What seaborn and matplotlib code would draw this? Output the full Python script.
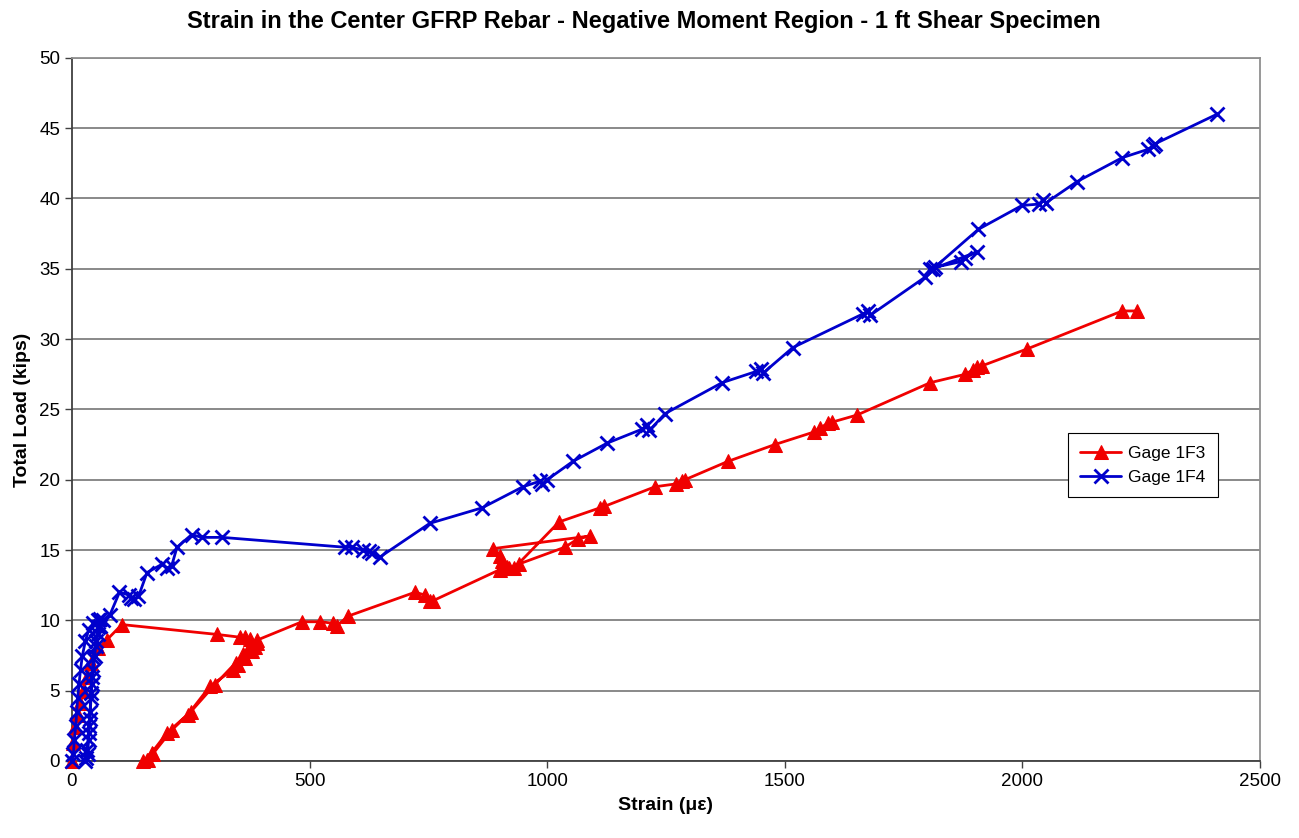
import matplotlib
matplotlib.use("Agg")
import matplotlib.pyplot as plt
import seaborn as sns
import pandas as pd

# Gage 1F3 (center GFRP bar, negative moment region)
strain_1f3 = [0, 2, 6, 12, 17, 24, 31, 40, 55, 73, 105,
              305, 354, 364, 374, 389,
              385, 378, 365, 350, 339, 290, 244, 210, 170, 158, 150,
              160, 168, 200, 250, 300, 345, 360, 375, 390,
              484, 522, 549, 557, 581,
              722, 743, 753, 760,
              900, 920, 940, 1037, 1065, 1090,
              886, 900, 905, 915, 930,
              1025, 1111, 1120, 1227, 1270, 1284, 1290,
              1380, 1479, 1562, 1575, 1590, 1600, 1652,
              1806, 1880, 1895, 1905, 1915, 2010, 2210, 2241]
load_1f3 = [0, 1.3, 2.4, 3.3, 4.1, 5.0, 6.0, 7.0, 8.0, 8.6, 9.7,
            9.0, 8.8, 8.8, 8.7, 8.4,
            8.1, 7.8, 7.3, 6.8, 6.5, 5.3, 3.3, 2.2, 0.5, 0.1, 0,
            0.1, 0.6, 2.0, 3.5, 5.4, 7.0, 7.6, 8.2, 8.6,
            9.9, 9.9, 9.8, 9.6, 10.3,
            12.0, 11.8, 11.4, 11.4,
            13.6, 13.7, 14.0, 15.2, 15.8, 16.0,
            15.1, 14.6, 14.2, 13.8, 13.7,
            17.0, 18.0, 18.1, 19.5, 19.7, 19.9, 20.0,
            21.3, 22.5, 23.4, 23.7, 24.0, 24.1, 24.6,
            26.9, 27.5, 27.8, 28.0, 28.1, 29.3, 32.0, 32.0]

# Gage 1F4
strain_1f4 = [0, 3, 5, 8, 10, 12, 15, 18, 22, 28, 35, 45, 55, 60,
              55, 50, 45, 42, 40, 38, 36, 35, 33, 30, 28,
              32, 35, 38, 40, 42, 45, 48, 50, 55, 60, 65,
              80, 100, 120, 125, 130, 140, 158, 190, 200, 210,
              221, 252, 273, 316,
              574, 589, 612, 625, 631, 648,
              753, 863, 949, 985, 990, 1000, 1054, 1126,
              1200, 1210, 1215, 1248, 1368, 1440, 1450, 1455,
              1517, 1665, 1675, 1680, 1795, 1806, 1815,
              1870, 1880, 1904, 1812,
              1907, 1999, 2035, 2043, 2050, 2115, 2210,
              2265, 2275, 2280, 2410]
load_1f4 = [0, 0.5, 1.5, 2.5, 3.5, 4.5, 5.5, 6.5, 7.5, 8.5, 9.3, 9.8, 10.0, 10.1,
            9.5, 8.5, 7.3, 6.0, 4.8, 3.5, 2.5, 1.5, 0.5, 0.2, 0,
            0.8, 2.0, 3.0, 4.5, 5.5, 6.5, 7.5, 8.2, 9.0, 9.6, 10.0,
            10.4, 12.0, 11.8, 11.6, 11.5, 11.7, 13.4, 14.0, 13.7, 13.9,
            15.2, 16.1, 15.9, 15.9,
            15.2, 15.2, 15.0, 14.9, 14.8, 14.5,
            16.9, 18.0, 19.5, 19.9, 19.7, 20.0, 21.3, 22.6,
            23.6, 23.9, 23.5, 24.7, 26.9, 27.7, 27.9, 27.6,
            29.4, 31.8, 32.0, 31.7, 34.4, 35.0, 35.1,
            35.5, 35.8, 36.2, 35.0,
            37.8, 39.5, 39.6, 39.9, 39.7, 41.2, 42.9,
            43.5, 43.7, 43.9, 46.0]

x_ticks = [0, 500, 1000, 1500, 2000, 2500]
y_ticks = [0, 5, 10, 15, 20, 25, 30, 35, 40, 45, 50]

df_1f3 = pd.DataFrame({"strain": strain_1f3, "load": load_1f3})
df_1f4 = pd.DataFrame({"strain": strain_1f4, "load": load_1f4})

sns.set_theme(style="white")
plt.rcParams["font.family"] = ["Liberation Sans", "DejaVu Sans"]
plt.rcParams["text.color"] = "black"
plt.rcParams["axes.labelcolor"] = "black"

fig = plt.figure(figsize=(12.99, 8.38), dpi=100)
ax = fig.add_axes([0.0554, 0.0919, 0.9146, 0.8391])

red = "#F00000"
blue = "#0000CC"

sns.lineplot(data=df_1f3, x="strain", y="load", sort=False, estimator=None,
             color=red, linewidth=2, marker="^", markersize=10.5,
             markeredgecolor=red, markerfacecolor=red, label="Gage 1F3",
             ax=ax, clip_on=False, zorder=3)
sns.lineplot(data=df_1f4, x="strain", y="load", sort=False, estimator=None,
             color=blue, linewidth=2, marker="x", markersize=10.5,
             markeredgewidth=2, markeredgecolor=blue, label="Gage 1F4",
             ax=ax, clip_on=False, zorder=4)

ax.set_xlim(0, 2500)
ax.set_ylim(0, 50)
ax.set_xticks(x_ticks)
ax.set_yticks(y_ticks)
ax.tick_params(axis="both", labelsize=13.5, labelcolor="black", length=5,
               width=1, direction="out", bottom=True, left=True, color="#404040")
ax.yaxis.grid(True, color="#808080", linewidth=1.3)
ax.xaxis.grid(False)
ax.set_axisbelow(True)

for side in ["top", "right"]:
    ax.spines[side].set_color("#909090")
    ax.spines[side].set_linewidth(1.3)
for side in ["left", "bottom"]:
    ax.spines[side].set_color("#404040")
    ax.spines[side].set_linewidth(1.3)

ax.set_xlabel("Strain (\u03bc\u03b5)", fontsize=14, fontweight="bold", labelpad=5)
ax.set_ylabel("Total Load (kips)", fontsize=14, fontweight="bold", labelpad=6)
fig.suptitle("Strain in the Center GFRP Rebar - Negative Moment Region - 1 ft Shear Specimen",
             fontsize=17, fontweight="bold", color="black", x=0.496, y=0.988,
             va="top")

leg = ax.legend(loc="upper left", bbox_to_anchor=(0.838, 0.466), fontsize=12.5,
                frameon=True, fancybox=False, framealpha=1, edgecolor="black",
                handlelength=2.4, borderpad=0.7, labelspacing=0.55,
                borderaxespad=0, handletextpad=0.4)
leg.get_frame().set_linewidth(0.8)

fig.savefig("out.png", dpi=100, facecolor="white")
